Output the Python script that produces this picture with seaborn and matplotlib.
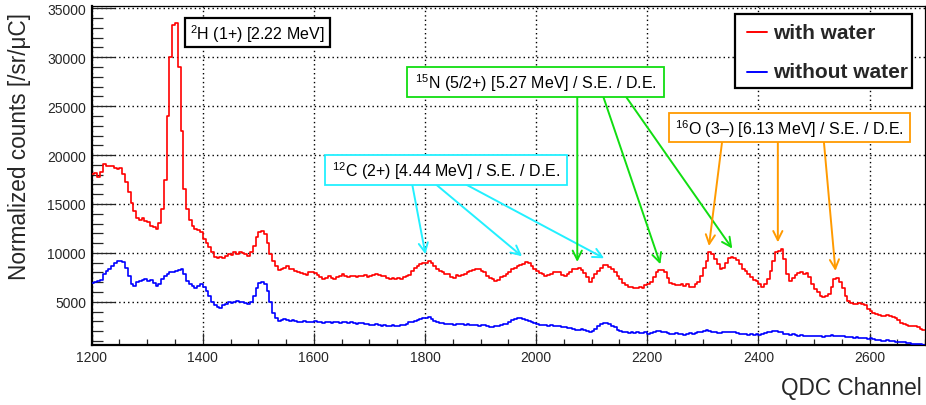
import numpy as np
import pandas as pd
import matplotlib
matplotlib.use("Agg")
import matplotlib.pyplot as plt
import seaborn as sns
from matplotlib.patches import Rectangle
from matplotlib.lines import Line2D

# ---------------- data (5-channel bins starting at 1200) ----------------
channel_start = 1200
bin_width = 5

with_water = [
    18100, 18200, 17800, 18300, 19050, 18900, 18850, 18850, 18700, 18550, 18650, 18050, 17200, 16250, 15150, 14300, 13600, 13400, 13600, 13300,
    13200, 12750, 12600, 12450, 13100, 14500, 17500, 24000, 30000, 33300, 33500, 29000, 22500, 16500, 14500, 13400, 12700, 12450, 12300, 12100,
    11400, 11050, 10550, 10050, 9550, 9450, 9550, 9450, 9650, 9850, 9750, 10050, 9850, 10050, 9950, 9850, 9700, 10050, 10700, 11600,
    12150, 12250, 11900, 11050, 9850, 9200, 8700, 8250, 8400, 8500, 8700, 8350, 8400, 8150, 8050, 7950, 7850, 7750, 8000, 8050,
    7900, 7750, 7500, 7300, 7400, 7600, 7400, 7300, 7500, 7600, 7850, 7650, 7500, 7650, 7600, 7500, 7650, 7600, 7750, 7550,
    7650, 7750, 7850, 7750, 7650, 7600, 7400, 7300, 7400, 7300, 7400, 7300, 7500, 7600, 7750, 8150, 8500, 8700, 8850, 8950,
    9000, 9200, 9000, 8700, 8350, 8150, 8000, 7850, 7800, 7500, 7400, 7750, 7650, 7750, 7850, 8000, 8150, 8250, 8300, 8350,
    8150, 8000, 7650, 7400, 7300, 7150, 7250, 7500, 7650, 7800, 8050, 8350, 8500, 8700, 8750, 8850, 9100, 9000, 8700, 8350,
    8150, 7950, 7850, 7650, 7750, 7850, 8000, 8050, 8000, 7750, 7600, 7850, 8050, 8350, 8400, 8500, 8250, 7950, 7500, 7050,
    7400, 7850, 8150, 8500, 8750, 8750, 8600, 8350, 8000, 7600, 7300, 6950, 6700, 6550, 6550, 6450, 6450, 6550, 6450, 6700,
    6850, 7050, 7500, 8000, 8250, 8250, 8050, 7400, 6950, 6800, 6700, 6700, 6800, 6650, 6800, 6550, 6550, 6800, 7050, 7650,
    8500, 9200, 10050, 9850, 9350, 8850, 8350, 8500, 9000, 9450, 9550, 9450, 9300, 8850, 8350, 8150, 7850, 7500, 7250, 7150,
    6800, 6550, 6800, 7300, 8150, 9200, 10050, 10200, 10400, 9350, 7800, 7150, 7400, 7750, 7950, 8000, 7850, 7950, 7500, 6800,
    6300, 6000, 5600, 5450, 5600, 5800, 6550, 7300, 7400, 7000, 6450, 5600, 5100, 4850, 4750, 4750, 4850, 4750, 4650, 4300,
    4100, 3900, 3750, 3650, 3550, 3500, 3650, 3500, 3400, 3300, 3150, 2800, 2700, 2600, 2550, 2500, 2500, 2400, 2250, 2150,
]

without_water = [
    6900, 7050, 7150, 7250, 7800, 8150, 8400, 8700, 9000, 9200, 9200, 9100, 8500, 7650, 6800, 6650, 7000, 7150, 7250, 7300,
    7150, 7250, 6900, 6650, 6800, 7300, 7650, 7850, 8000, 8050, 8150, 8250, 8400, 7850, 7150, 6800, 6650, 6450, 6650, 6800,
    6550, 6100, 5600, 4950, 4650, 4500, 4400, 4650, 4750, 4950, 4850, 5000, 5050, 4950, 5000, 4850, 4750, 5000, 5600, 6450,
    6950, 7050, 6800, 6100, 4950, 3900, 3300, 3050, 3150, 3250, 3150, 3050, 3150, 3050, 2900, 2950, 3050, 2900, 2950, 2900,
    3050, 2950, 2900, 2800, 2950, 2900, 2800, 2950, 2900, 2800, 2950, 2900, 2800, 2900, 2800, 2750, 2800, 2780, 2700, 2720,
    2650, 2600, 2700, 2600, 2550, 2600, 2550, 2500, 2600, 2500, 2550, 2600, 2650, 2750, 2900, 2950, 3050, 3150, 3250, 3300,
    3350, 3400, 3250, 3050, 2950, 2800, 2820, 2700, 2750, 2680, 2650, 2680, 2720, 2680, 2600, 2680, 2600, 2620, 2600, 2550,
    2600, 2620, 2550, 2400, 2380, 2480, 2550, 2600, 2680, 2750, 2900, 3150, 3250, 3300, 3300, 3250, 3150, 3050, 2900, 2800,
    2700, 2650, 2600, 2620, 2550, 2600, 2480, 2550, 2480, 2380, 2400, 2300, 2280, 2200, 2150, 2150, 2200, 2150, 2050, 1950,
    2050, 2200, 2550, 2700, 2800, 2780, 2700, 2550, 2380, 2150, 2050, 1950, 1930, 1850, 1870, 1800, 1860, 1760, 1800, 1860,
    1700, 1850, 1930, 2000, 2050, 1950, 1870, 1800, 1700, 1690, 1760, 1660, 1700, 1600, 1700, 1800, 1700, 1800, 1870, 1930,
    1970, 2100, 2030, 1930, 1870, 1800, 1760, 1870, 1930, 1860, 1930, 1870, 1800, 1730, 1700, 1660, 1600, 1660, 1630, 1660,
    1600, 1700, 1800, 1870, 1860, 1970, 2000, 1930, 1870, 1730, 1690, 1590, 1690, 1590, 1520, 1590, 1520, 1460, 1520, 1520,
    1460, 1520, 1460, 1350, 1460, 1520, 1590, 1520, 1520, 1520, 1460, 1390, 1350, 1350, 1250, 1350, 1250, 1320, 1250, 1180,
    1250, 1180, 1110, 1110, 1010, 1010, 1050, 1010, 980, 910, 910, 840, 840, 770, 770, 700, 700, 670, 640, 600,
]

series_names = ["with water", "without water"]
x_ticks = [1200, 1400, 1600, 1800, 2000, 2200, 2400, 2600]
y_ticks = [5000, 10000, 15000, 20000, 25000, 30000, 35000]

# ---------------- build table ----------------
n_bins = len(with_water)
channel_end = channel_start + bin_width * n_bins
centers = channel_start + bin_width * (np.arange(n_bins) + 0.5)
df = pd.concat([
    pd.DataFrame({"channel": centers, "counts": with_water, "sample": series_names[0]}),
    pd.DataFrame({"channel": centers, "counts": without_water, "sample": series_names[1]}),
], ignore_index=True)

# ---------------- style ----------------
sns.set_style("ticks")
plt.rcParams["font.family"] = ["Liberation Sans", "DejaVu Sans"]
plt.rcParams["mathtext.fontset"] = "custom"
plt.rcParams["mathtext.rm"] = "Liberation Sans"
plt.rcParams["mathtext.it"] = "Liberation Sans:italic"
plt.rcParams["mathtext.bf"] = "Liberation Sans:bold"

RED, BLUE = "#ff0000", "#0000ff"
CYAN, GREEN, ORANGE = "#22f0ff", "#11dd11", "#ff9a00"

fig = plt.figure(figsize=(9.26, 4.06), dpi=100)
ax = fig.add_axes([0.0990, 0.1485, 0.9000, 0.8342])

sns.histplot(data=df, x="channel", weights="counts", hue="sample",
             binwidth=bin_width, binrange=(channel_start, channel_end),
             element="step", fill=False, palette={series_names[0]: RED, series_names[1]: BLUE},
             linewidth=1.2, legend=False, ax=ax, zorder=3)

ax.set_xlim(1200, 2700)
ax.set_ylim(610, 35240)
ax.set_xlabel("")
ax.set_ylabel("")

ax.set_xticks(x_ticks)
ax.set_xticks(np.arange(1200, 2701, 50), minor=True)
ax.set_yticks(y_ticks)
ax.set_yticks(np.arange(1000, 35001, 1000), minor=True)
ax.set_xticklabels([str(v) for v in x_ticks])
ax.set_yticklabels([str(v) for v in y_ticks])

ax.tick_params(axis="x", which="major", direction="in", length=8.6, width=0.9, labelsize=10, pad=4)
ax.tick_params(axis="x", which="minor", direction="in", length=4.3, width=0.9)
ax.tick_params(axis="y", which="major", direction="in", length=16.5, width=0.9, labelsize=10, pad=4)
ax.tick_params(axis="y", which="minor", direction="in", length=8, width=0.9)

ax.grid(True, which="major", color="black", linestyle=(0, (1.0, 2.2)), linewidth=1.0, zorder=1)
ax.set_axisbelow(True)

for side in ["bottom", "left"]:
    ax.spines[side].set_linewidth(1.6)
for side in ["top", "right"]:
    ax.spines[side].set_linewidth(0.9)
for s in ax.spines.values():
    s.set_color("black")

# ---------------- annotations ----------------
annotations = [
    (r"$^{2}$H (1+) [2.22 MeV]", "black", (1367.6, 31030, 1628.4, 33983), []),
    (r"$^{12}$C (2+) [4.44 MeV] / S.E. / D.E.", CYAN, (1620.5, 16982, 2055.4, 19965),
     [((1777, 16982), (1800.7, 9856)), ((1820, 16982), (1974.5, 9652)), ((1874, 16982), (2122.4, 9449))]),
    (r"$^{15}$N (5/2+) [5.27 MeV] / S.E. / D.E.", GREEN, (1768, 25940, 2230, 28994),
     [((2074, 25940), (2074, 9072)), ((2121, 25940), (2223.6, 8838)), ((2162, 25940), (2353, 10436))]),
    (r"$^{16}$O (3–) [6.13 MeV] / S.E. / D.E.", ORANGE, (2239, 21288, 2673, 24312),
     [((2334.5, 21288), (2311, 10701)), ((2435, 21288), (2435, 11077)), ((2518, 21288), (2538.7, 8156))]),
]

for text, color, (x0, y0, x1, y1), arrows in annotations:
    lw = 1.6 if color == "black" else 1.3
    ax.add_patch(Rectangle((x0, y0), x1 - x0, y1 - y0, facecolor="white", edgecolor=color,
                           linewidth=lw, zorder=6))
    ax.text((x0 + x1) / 2, (y0 + y1) / 2, text, ha="center", va="center", fontsize=11.5,
            color="black", zorder=7)
    for start, tip in arrows:
        ax.annotate("", xy=tip, xytext=start,
                    arrowprops=dict(arrowstyle="->,head_length=0.6,head_width=0.3", color=color,
                                    lw=1.4, shrinkA=0, shrinkB=0, mutation_scale=11),
                    zorder=5)

# ---------------- legend (ROOT-style box, axes-fraction layout) ----------------
ax.add_patch(Rectangle((0.7719, 0.7579), 0.9843 - 0.7719, 0.9764 - 0.7579, transform=ax.transAxes,
                       facecolor="white", edgecolor="black", linewidth=1.6, zorder=8))
for name, color, fy in [(series_names[0], RED, 0.9223), (series_names[1], BLUE, 0.806)]:
    ax.add_line(Line2D([0.7863, 0.8103], [fy, fy], transform=ax.transAxes, color=color,
                       lw=1.4, zorder=9))
    ax.text(0.8175, fy, name, transform=ax.transAxes, ha="left", va="center",
            fontsize=15, fontweight="bold", zorder=9)

# ---------------- axis titles ----------------
fig.text(20 / 926, 1 - 13 / 406, "Normalized counts [/sr/μC]", rotation=90, ha="center", va="top",
         fontsize=16.3)
fig.text(922 / 926, 1 - 389 / 406, "QDC Channel", ha="right", va="center", fontsize=16.3)

fig.savefig("out.png", dpi=100)
